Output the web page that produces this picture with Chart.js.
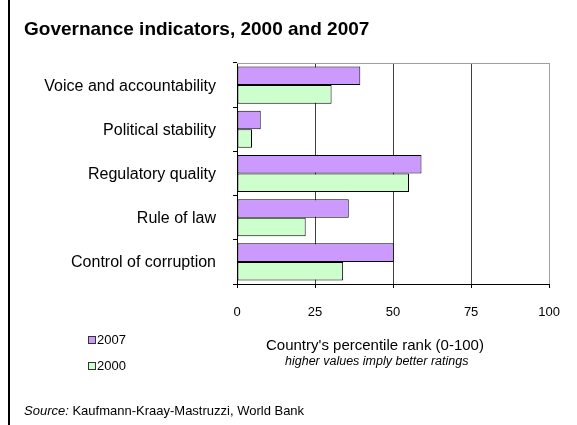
<!DOCTYPE html>
<html>
<head>
<meta charset="utf-8">
<script src="https://cdn.jsdelivr.net/npm/chart.js@4/dist/chart.umd.min.js"></script>
<style>
  html, body { margin: 0; padding: 0; background: #fff; }
  body { width: 577px; height: 425px; position: relative; overflow: hidden; font-family: "Liberation Sans", Arial, sans-serif; color: #000; }
  #wrap { position: absolute; left: 0; top: 0; width: 577px; height: 425px; }
  .abs { position: absolute; white-space: nowrap; line-height: 1; }
  #border { position: absolute; left: 8px; top: 0; width: 2px; height: 425px; background: #000; }
  #title { left: 24px; top: 19px; font-size: 19px; font-weight: bold; }
  #axisTitle { left: 266px; top: 337px; font-size: 15px; }
  #axisSub { left: 285px; top: 355px; font-size: 12.5px; font-style: italic; }
  #source { left: 24px; top: 404px; font-size: 13px; }
  .leg { position: absolute; left: 88px; font-size: 13px; display: flex; align-items: center; }
  .leg span.sw { display: inline-block; width: 6px; height: 6px; border: 1px solid #333; margin-right: 1px; }
</style>
</head>
<body>
<div id="wrap"><canvas id="c" width="577" height="425"></canvas></div>
<div id="border"></div>
<div class="abs" id="title">Governance indicators, 2000 and 2007</div>
<div class="abs" id="axisTitle">Country's percentile rank (0-100)</div>
<div class="abs" id="axisSub">higher values imply better ratings</div>
<div class="abs" id="source"><i>Source:</i> Kaufmann-Kraay-Mastruzzi, World Bank</div>
<div id="legend"></div>
<script>
const categories = ['Voice and accountability', 'Political stability', 'Regulatory quality', 'Rule of law', 'Control of corruption'];
const values2007 = [39.5, 7.6, 59.1, 35.8, 50.2];
const values2000 = [30.3, 4.8, 55.1, 22.0, 34.0];
const seriesNames = ['2007', '2000'];
const xTicks = [0, 25, 50, 75, 100];
const colors = ['#CC99FF', '#CCFFCC'];

// legend (HTML)
const legend = document.getElementById('legend');
seriesNames.forEach((name, i) => {
  const d = document.createElement('div');
  d.className = 'leg';
  d.style.top = (332 + i * 26) + 'px';
  d.innerHTML = '<span class="sw" style="background:' + colors[i] + '"></span>' + name;
  legend.appendChild(d);
});

const topBorder = {
  id: 'topBorder',
  afterDatasetsDraw(chart) {
    const a = chart.chartArea, ctx = chart.ctx;
    ctx.save();
    ctx.strokeStyle = '#a0a0a0';
    ctx.lineWidth = 1;
    ctx.beginPath();
    ctx.moveTo(a.left, a.top + 0.5);
    ctx.lineTo(a.right, a.top + 0.5);
    ctx.stroke();
    ctx.restore();
  }
};

new Chart(document.getElementById('c'), {
  type: 'bar',
  data: {
    labels: categories,
    datasets: [
      { label: seriesNames[0], data: values2007, backgroundColor: colors[0], borderColor: '#000', borderWidth: 1, borderSkipped: false },
      { label: seriesNames[1], data: values2000, backgroundColor: colors[1], borderColor: '#000', borderWidth: 1, borderSkipped: false }
    ]
  },
  options: {
    indexAxis: 'y',
    responsive: false,
    animation: false,
    categoryPercentage: 0.84,
    barPercentage: 1.0,
    layout: { padding: { top: 63, right: 27, bottom: 0, left: 0 } },
    plugins: { legend: { display: false }, tooltip: { enabled: false }, title: { display: false } },
    scales: {
      x: {
        min: 0, max: 100,
        afterBuildTicks: (s) => { s.ticks = xTicks.map(v => ({ value: v })); },
        afterFit: (s) => { s.height = 141; },
        ticks: { color: '#000', font: { family: 'Liberation Sans', size: 13 }, padding: 17, maxRotation: 0 },
        grid: {
          color: (ctx) => (ctx.tick && ctx.tick.value === 100) ? '#a0a0a0' : (ctx.tick && ctx.tick.value === 0 ? 'rgba(0,0,0,0)' : '#404040'),
          tickColor: '#000', tickLength: 4, lineWidth: 1
        },
        border: { color: '#000', width: 1 }
      },
      y: {
        afterFit: (s) => { s.width = 237; },
        ticks: { color: '#000', font: { family: 'Liberation Sans', size: 16 }, padding: 17, labelOffset: 1 },
        grid: { drawOnChartArea: false, tickColor: '#000', tickLength: 4, offset: true },
        border: { color: '#000', width: 1 }
      }
    }
  },
  plugins: [topBorder]
});
</script>
</body>
</html>
